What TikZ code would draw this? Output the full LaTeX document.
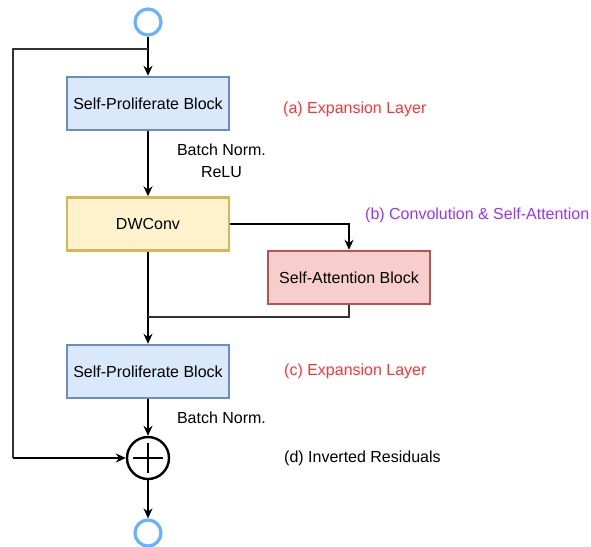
\documentclass[tikz,border=0pt]{standalone}
\usepackage{fontspec}
\setmainfont{Liberation Sans}
\usetikzlibrary{arrows.meta}
\definecolor{spfill}{HTML}{DAE8FC}
\definecolor{spline}{HTML}{6C8EBF}
\definecolor{dwfill}{HTML}{FFF2CC}
\definecolor{dwline}{HTML}{D6B656}
\definecolor{safill}{HTML}{F8CECC}
\definecolor{saline}{HTML}{B85450}
\definecolor{portline}{HTML}{66B2FF}
\definecolor{notered}{HTML}{FF3333}
\definecolor{notepurple}{HTML}{9933FF}
\begin{document}
\begin{tikzpicture}[x=1pt,y=-1pt,
  font=\fontsize{16}{22}\selectfont,
  blk/.style={draw, line width=2.4pt, minimum width=162pt, minimum height=53pt, inner sep=0pt},
  port/.style={circle, draw=portline, line width=3.2pt, fill=white, minimum size=26pt, inner sep=0pt},
  arr/.style={line width=2pt, -{Stealth[length=10pt,width=9pt]}},
  link/.style={line width=1.4pt, draw=black!80},
  note/.style={anchor=west, inner sep=0pt}]
\useasboundingbox (0,0) rectangle (591,546);

% input / output ports
\node[port] (in) at (148,22) {};
\node[port] (out) at (148,533) {};

% main blocks
\node[blk, fill=spfill, draw=spline] (sp1) at (148,103.5) {Self-Proliferate Block};
\node[blk, fill=dwfill, draw=dwline] (dw) at (148,224) {DWConv};
\node[blk, fill=safill, draw=saline] (sa) at (349,277.5) {Self-Attention Block};
\node[blk, fill=spfill, draw=spline] (sp2) at (148,371.5) {Self-Proliferate Block};

% residual sum
\node[circle, draw, line width=2.4pt, minimum size=42pt, inner sep=0pt] (plus) at (148,458) {};
\draw[line width=2.4pt] (plus.center) ++(-15,0) -- ++(30,0);
\draw[line width=2.4pt] (plus.center) ++(0,-15) -- ++(0,30);

% routing points
\coordinate (split) at (148,49);
\coordinate (lt) at (13,49);
\coordinate (lb) at (13,458);
\coordinate (merge) at (148,317);

% connectors
\draw[arr] (in) -- (sp1);
\draw[arr] (sp1) -- (dw);
\draw[arr] (dw.east) -| (sa.north);
\draw[arr] (dw) -- (sp2);
\draw[link] (sa.south) |- (merge);
\draw[arr] (sp2) -- (plus);
\draw[arr] (plus) -- (out);
\draw[link] (split) -- (lt) -- (lb);
\draw[arr] (lb) -- (plus.west);

% edge labels
\node[align=center, inner sep=0pt] (bn1) at (221.5,161) {Batch Norm.\\ReLU};
\node[inner sep=0pt] (bn2) at (221.5,418) {Batch Norm.};

% side notes
\node[note, text=notered] (na) at (283,109) {(a) Expansion Layer};
\node[note, text=notepurple] (nb) at (365,215) {(b) Convolution \& Self-Attention};
\node[note, text=notered] (nc) at (284,371) {(c) Expansion Layer};
\node[note] (nd) at (284,458) {(d) Inverted Residuals};
\end{tikzpicture}
\end{document}
